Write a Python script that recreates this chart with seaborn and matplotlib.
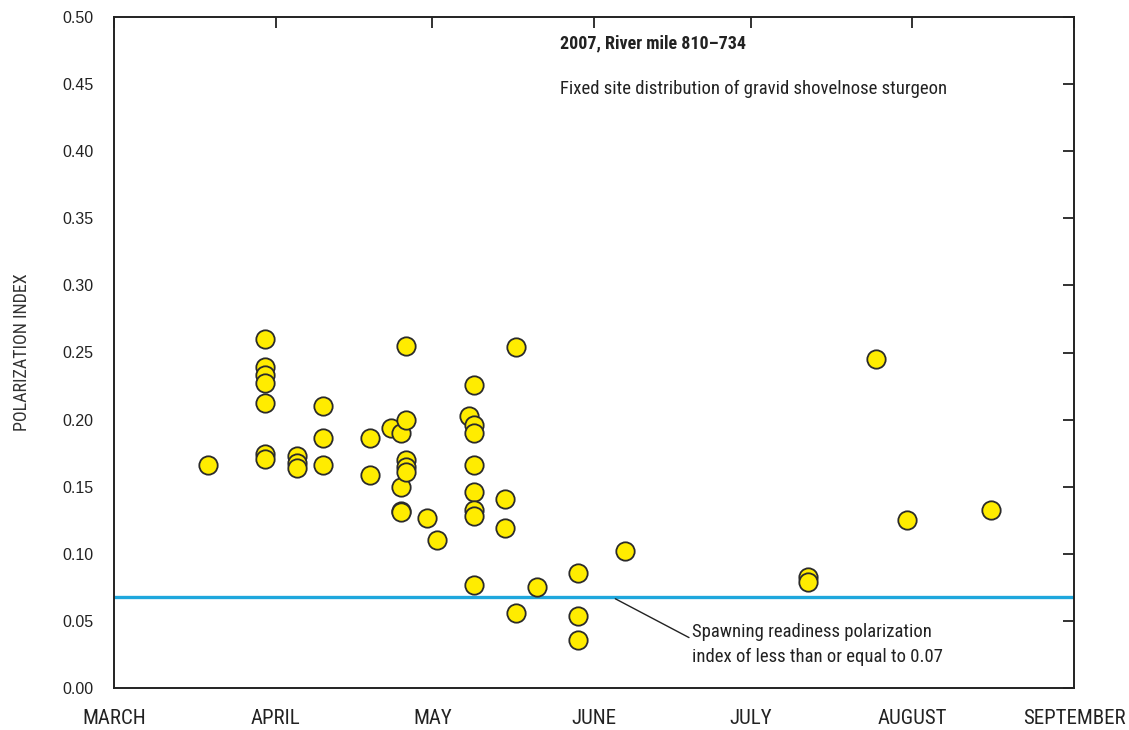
import matplotlib
matplotlib.use("Agg")
import matplotlib.pyplot as plt
import matplotlib.dates as mdates
import matplotlib.font_manager as fm
import seaborn as sns
import pandas as pd

# Data (2007 survey dates, polarization index)
dates = (
    ["2007-03-19"]
    + ["2007-03-30"] * 7
    + ["2007-04-05"] * 3
    + ["2007-04-10"] * 3
    + ["2007-04-19"] * 2
    + ["2007-04-23"]
    + ["2007-04-25"] * 4
    + ["2007-04-26"] * 5
    + ["2007-04-30", "2007-05-02", "2007-05-08"]
    + ["2007-05-09"] * 8
    + ["2007-05-15"] * 2
    + ["2007-05-17"] * 2
    + ["2007-05-21"]
    + ["2007-05-29"] * 3
    + ["2007-06-07"]
    + ["2007-07-12"] * 2
    + ["2007-07-25", "2007-07-31", "2007-08-16"]
)
pol_index = [
    0.166,
    0.260, 0.239, 0.233, 0.227, 0.212, 0.174, 0.171,
    0.173, 0.168, 0.164,
    0.210, 0.186, 0.166,
    0.186, 0.159,
    0.194,
    0.190, 0.150, 0.132, 0.131,
    0.255, 0.200, 0.170, 0.165, 0.161,
    0.127, 0.110, 0.203,
    0.226, 0.196, 0.190, 0.166, 0.146, 0.133, 0.128, 0.077,
    0.141, 0.119,
    0.254, 0.056,
    0.075,
    0.086, 0.054, 0.036,
    0.102,
    0.083, 0.079,
    0.245, 0.125, 0.133,
]
month_starts = ["2007-03-01", "2007-04-01", "2007-05-01", "2007-06-01",
                "2007-07-01", "2007-08-01", "2007-09-01"]
month_labels = ["MARCH", "APRIL", "MAY", "JUNE", "JULY", "AUGUST", "SEPTEMBER"]
threshold = 0.068


def pick_narrow():
    # the original uses a condensed face; take whatever narrow font is around
    names = {f.name for f in fm.fontManager.ttflist}
    for n in ["Liberation Sans Narrow", "Roboto Condensed", "Open Sans Condensed",
              "Noto Sans Condensed", "DejaVu Sans Condensed"]:
        if n in names:
            return n, "normal"
    for f in fm.fontManager.ttflist:
        if f.stretch in ("condensed", "semi-condensed") and f.name in (
                "Roboto", "Open Sans", "Noto Sans", "DejaVu Sans", "Liberation Sans"):
            return f.name, f.stretch
    return "Liberation Sans", "normal"


df = pd.DataFrame({"date": pd.to_datetime(dates), "pi": pol_index})

sns.set_style("white")
nfont, nstretch = pick_narrow()
narrow = dict(family=[nfont, "DejaVu Sans"], fontstretch=nstretch)
plt.rcParams["font.family"] = ["Liberation Sans", "DejaVu Sans"]

fig = plt.figure(figsize=(11.29, 7.30), dpi=100)
ax = fig.add_axes([114 / 1129, 1 - 688 / 730, 960 / 1129, 671 / 730])

ax.axhline(threshold, color="#1ea7dd", lw=2.4, zorder=1)
sns.scatterplot(data=df, x="date", y="pi", s=175, color="#ffec00",
                edgecolor="#2b2b2b", linewidth=1.3, ax=ax, zorder=3, legend=False)

ax.set_xlim(pd.Timestamp(month_starts[0]), pd.Timestamp(month_starts[-1]))
ax.set_ylim(0, 0.5)
ax.set_xticks(pd.to_datetime(month_starts))
ax.set_xticklabels(month_labels, fontsize=15, color="#222222", **narrow)
ax.xaxis.set_minor_locator(mdates.WeekdayLocator(byweekday=mdates.MO))
ax.set_yticks([i * 0.05 for i in range(11)])
ax.set_yticklabels([f"{i * 0.05:.2f}" for i in range(11)], fontsize=11.5,
                   color="#222222")

ax.tick_params(axis="both", which="major", direction="in", length=8, width=1.3,
               color="#222222", top=True, right=True)
ax.tick_params(axis="x", which="major", pad=15)
ax.tick_params(axis="y", which="major", pad=15)
ax.tick_params(axis="x", which="minor", direction="in", length=3, width=0.6,
               color="#cccccc", top=False)
for sp in ax.spines.values():
    sp.set_color("#222222")
    sp.set_linewidth(1.4)

ax.set_xlabel("")
ax.set_ylabel("POLARIZATION INDEX", fontsize=13, color="#333333", labelpad=22,
              **narrow)

ax.text(0.4646, 0.960, "2007, River mile 810\u2013734", transform=ax.transAxes,
        fontsize=13, fontweight="bold", color="#222222", ha="left", va="center",
        **narrow)
ax.text(0.4646, 0.893, "Fixed site distribution of gravid shovelnose sturgeon",
        transform=ax.transAxes, fontsize=13.5, color="#222222",
        ha="left", va="center", **narrow)

ax.annotate("Spawning readiness polarization\nindex of less than or equal to 0.07",
            xy=(pd.Timestamp("2007-06-05 02:00"), 0.0665),
            xytext=(pd.Timestamp("2007-06-19 20:00"), 0.0325),
            fontsize=13.5, color="#222222", ha="left", va="center",
            linespacing=1.45, **narrow,
            arrowprops=dict(arrowstyle="-", color="#222222", lw=1.0,
                            shrinkA=0, shrinkB=0, relpos=(0, 0.62)))

fig.savefig("out.png", dpi=100)
